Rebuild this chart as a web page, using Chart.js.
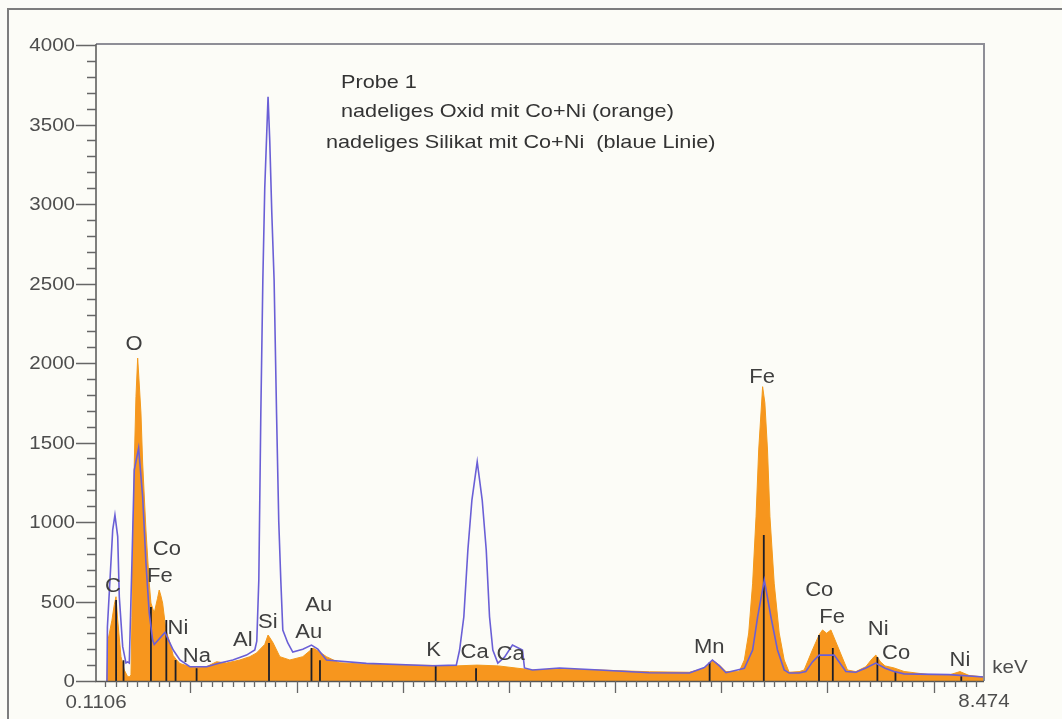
<!DOCTYPE html>
<html>
<head>
<meta charset="utf-8">
<script src="https://cdn.jsdelivr.net/npm/chart.js@4/dist/chart.umd.min.js"></script>
<style>
  html, body { margin: 0; padding: 0; background: #fcfcf7; }
  #wrap { position: relative; width: 1062px; height: 719px; overflow: hidden; }
  canvas { position: absolute; left: 0; top: 0; }
</style>
</head>
<body>
<div id="wrap"><canvas id="c" width="1062" height="719"></canvas></div>
<script>
// ---- Data (energy in keV, counts) ----
const energyOxid = [0.214,0.224,0.26,0.283,0.299,0.315,0.346,0.377,0.409,0.43,0.44,0.449,0.456,0.471,0.487,0.503,0.515,0.534,0.55,0.581,0.612,0.628,0.659,0.69,0.706,0.72,0.738,0.769,0.807,0.838,0.87,0.901,0.995,1.058,1.152,1.246,1.34,1.465,1.559,1.622,1.7,1.731,1.76,1.779,1.842,1.936,2.058,2.155,2.2,2.281,2.4,2.657,2.97,3.281,3.504,3.7,3.9,4.146,4.222,4.476,4.852,5.323,5.699,5.84,5.916,5.982,6.044,6.17,6.217,6.258,6.295,6.327,6.352,6.389,6.41,6.435,6.458,6.498,6.545,6.592,6.639,6.733,6.78,6.858,6.921,6.953,6.992,7.032,7.11,7.188,7.267,7.361,7.42,7.455,7.5,7.542,7.627,7.721,7.956,8.145,8.248,8.333,8.474];
const countsOxid = [0,258,380,480,530,384,153,69,27,27,40,400,742,1371,1788,2031,1900,1685,1371,950,616,490,428,520,572,540,490,321,239,160,132,110,90,85,90,121,113,132,153,176,230,289,260,239,153,132,153,207,190,153,115,105,100,98,95,100,95,75,69,75,69,58,55,80,132,100,59,62,132,302,615,1033,1453,1851,1750,1453,1033,615,302,132,55,59,69,195,290,321,300,321,195,69,59,90,140,163,120,95,82,60,40,38,59,35,25];

const energySilikat = [0.214,0.218,0.268,0.289,0.315,0.33,0.362,0.393,0.409,0.424,0.449,0.471,0.512,0.55,0.581,0.612,0.644,0.659,0.76,0.838,0.901,0.995,1.152,1.277,1.399,1.528,1.606,1.625,1.644,1.663,1.682,1.7,1.731,1.747,1.766,1.788,1.811,1.832,1.851,1.87,1.917,1.964,2.058,2.14,2.2,2.281,2.657,3.281,3.504,3.535,3.575,3.613,3.651,3.701,3.748,3.786,3.817,3.848,3.895,3.958,4.033,4.127,4.146,4.222,4.476,4.852,5.323,5.699,5.84,5.916,5.982,6.044,6.217,6.295,6.342,6.405,6.467,6.529,6.592,6.639,6.733,6.796,6.858,6.921,7.063,7.11,7.173,7.267,7.361,7.455,7.542,7.627,7.721,8.145,8.474];
const countsSilikat = [0,340,950,1044,908,530,216,113,120,113,742,1327,1465,1159,742,428,258,230,305,195,132,90,90,113,132,163,195,250,635,1685,2522,3100,3675,3400,2950,2522,1685,1000,635,320,239,182,200,226,200,132,111,96,100,195,404,824,1138,1379,1138,824,404,195,113,150,226,195,82,69,82,69,52,50,85,132,95,52,80,195,404,635,404,195,70,50,50,60,120,163,163,120,60,55,82,113,80,60,45,40,25];

// element marker lines (keV, height in counts)
const markerEnergy = [0.30,0.37,0.628,0.773,0.86,1.058,1.74,2.14,2.22,3.31,3.69,5.89,6.40,6.92,7.05,7.47,7.64,8.26];
const markerHeight = [510,130,465,384,132,80,239,207,130,100,80,120,918,289,207,151,60,30];

// element labels
const labelText   = ["O","C","Co","Fe","Ni","Na","Al","Si","Au","Au","K","Ca","Ca","Mn","Fe","Co","Fe","Ni","Co","Ni"];
const labelEnergy = [0.468,0.271,0.778,0.713,0.882,1.061,1.493,1.729,2.208,2.114,3.29,3.676,4.015,5.887,6.385,6.922,7.044,7.477,7.646,8.248];
const labelCount  = [2119,597,830,660,333,157,252,365,472,308,195,182,164,208,1912,572,402,327,170,126];

// axis ticks
const yMajorTicks = [0,500,1000,1500,2000,2500,3000,3500,4000];
const yTickLabels = ["0","500","1000","1500","2000","2500","3000","3500","4000"];
const xMajorTicks = [1,2,3,4,5,6,7,8];
const xEndLabels = ["0.1106","8.474"];
const xMin = 0.1106, xMax = 8.474;

const titleLines = ["Probe 1","nadeliges Oxid mit Co+Ni (orange)","nadeliges Silikat mit Co+Ni  (blaue Linie)"];

// ---- build datasets ----
const oxidPoints = energyOxid.map((e,i)=>({x:e,y:countsOxid[i]}));
const silPoints = energySilikat.map((e,i)=>({x:e,y:countsSilikat[i]}));
const markerPoints = [];
markerEnergy.forEach((e,i)=>{ markerPoints.push({x:e,y:0},{x:e,y:markerHeight[i]},{x:e,y:null}); });

const FONT = '"Liberation Sans", Arial, Helvetica, sans-serif';
function sText(ctx, txt, x, y, align, sx){
  ctx.save();
  ctx.translate(x,y);
  ctx.scale(sx || 1.08,1);
  ctx.textAlign = align;
  ctx.fillText(txt,0,0);
  ctx.restore();
}

const decor = {
  id:'decor',
  beforeDraw(chart){
    const ctx = chart.ctx;
    ctx.save();
    ctx.fillStyle = '#fcfcf7';
    ctx.fillRect(0,0,chart.width,chart.height);
    ctx.strokeStyle = '#7d7d7d';
    ctx.lineWidth = 2;
    ctx.beginPath();
    ctx.moveTo(8, chart.height); ctx.lineTo(8, 9); ctx.lineTo(chart.width, 9);
    ctx.stroke();
    ctx.restore();
  },
  afterDatasetsDraw(chart){
    const ctx = chart.ctx, a = chart.chartArea, xs = chart.scales.x, ys = chart.scales.y;
    ctx.save();
    ctx.strokeStyle = '#8e8e96';
    ctx.lineWidth = 2;
    ctx.beginPath();
    ctx.moveTo(a.left, a.top-1); ctx.lineTo(a.right, a.top-1); ctx.lineTo(a.right, a.bottom);
    ctx.stroke();
    ctx.strokeStyle = '#555';
    ctx.lineWidth = 1.5;
    ctx.beginPath();
    ctx.moveTo(a.left, a.top-1); ctx.lineTo(a.left, a.bottom+0.5); ctx.lineTo(a.right, a.bottom+0.5);
    ctx.stroke();
    ctx.lineWidth = 1.5;
    ctx.strokeStyle = '#666';
    for (let v = 0; v <= 4000; v += 100) {
      const y = Math.round(ys.getPixelForValue(v)) + 0.5;
      const major = yMajorTicks.includes(v);
      ctx.beginPath();
      ctx.moveTo(a.left - (major ? 20 : 9), y);
      ctx.lineTo(a.left, y);
      ctx.stroke();
    }
    ctx.fillStyle = '#4d4d4d';
    ctx.font = '19px ' + FONT;
    ctx.textBaseline = 'middle';
    yMajorTicks.forEach((v,i)=>{
      sText(ctx, yTickLabels[i], a.left - 21, ys.getPixelForValue(v)+1, 'right');
    });
    ctx.strokeStyle = '#666';
    ctx.lineWidth = 1.3;
    for (let i = 2; i <= 84; i++) {
      const k = i/10;
      const x = Math.round(xs.getPixelForValue(k)) + 0.5;
      const major = xMajorTicks.includes(k);
      ctx.beginPath();
      ctx.moveTo(x, a.bottom);
      ctx.lineTo(x, a.bottom + (major ? 12 : 6));
      ctx.stroke();
    }
    sText(ctx, xEndLabels[0], xs.getPixelForValue(xMin), a.bottom + 22, 'center');
    sText(ctx, xEndLabels[1], xs.getPixelForValue(xMax), a.bottom + 21, 'center');
    sText(ctx, 'keV', a.right + 26, a.bottom - 13, 'center');
    ctx.restore();
  },
  afterDraw(chart){
    const ctx = chart.ctx, xs = chart.scales.x, ys = chart.scales.y, a = chart.chartArea;
    ctx.save();
    ctx.font = '20px ' + FONT;
    ctx.fillStyle = '#3f3f3f';
    ctx.textBaseline = 'middle';
    labelText.forEach((t,i)=>{
      sText(ctx, t, xs.getPixelForValue(labelEnergy[i]), ys.getPixelForValue(labelCount[i]), 'center', 1.1);
    });
    ctx.font = '19px ' + FONT;
    ctx.fillStyle = '#333';
    sText(ctx, titleLines[0], a.left + 245, a.top + 38, 'left', 1.14);
    sText(ctx, titleLines[1], a.left + 245, a.top + 67, 'left', 1.14);
    sText(ctx, titleLines[2], a.left + 230, a.top + 98, 'left', 1.14);
    ctx.restore();
  }
};

new Chart(document.getElementById('c'), {
  type: 'line',
  data: {
    datasets: [
      { label:'Silikat', data: silPoints, order: 0, borderColor:'#6a5fd6', borderWidth:1.6,
        pointRadius:0, fill:false, tension:0 },
      { label:'Marker', data: markerPoints, order: 1, borderColor:'#1e1e28', borderWidth:1.8,
        pointRadius:0, fill:false, spanGaps:false, tension:0 },
      { label:'Oxid', data: oxidPoints, order: 2, borderColor:'#f39a1c', borderWidth:1,
        backgroundColor:'#f7961e', pointRadius:0, fill:'origin', tension:0 }
    ]
  },
  options: {
    responsive: false,
    animation: false,
    devicePixelRatio: 1,
    layout: { padding: { left: 96, right: 78, top: 45, bottom: 38 } },
    scales: {
      x: { type:'linear', min:xMin, max:xMax, display:false },
      y: { type:'linear', min:0, max:4000, display:false }
    },
    plugins: { legend:{display:false}, tooltip:{enabled:false} },
    events: []
  },
  plugins: [decor]
});
</script>
</body>
</html>
